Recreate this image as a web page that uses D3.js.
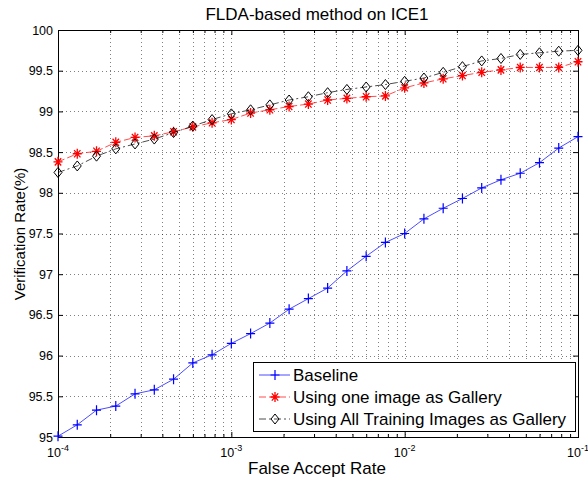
<!DOCTYPE html>
<html>
<head>
<meta charset="utf-8">
<script src="https://cdn.jsdelivr.net/npm/d3@7"></script>
<style>
  body { margin: 0; background: #fff; }
  svg text { font-family: "Liberation Sans", Arial, Helvetica, sans-serif; fill: #000; }
</style>
</head>
<body>
<svg id="chart" width="588" height="482"></svg>
<script>
// FAR sample points: 9 per decade from 1e-4 to 1e-1
const farExp = d3.range(0, 28).map(k => -4 + k / 9);

const baseline = [95.01, 95.15, 95.33, 95.38, 95.53, 95.58, 95.71, 95.91, 96.01, 96.15,
  96.27, 96.40, 96.57, 96.70, 96.83, 97.04, 97.22, 97.39, 97.50, 97.68,
  97.81, 97.93, 98.06, 98.16, 98.24, 98.37, 98.55, 98.69];

const oneImage = [98.38, 98.48, 98.51, 98.62, 98.68, 98.70, 98.75, 98.81, 98.86, 98.90,
  98.98, 99.02, 99.06, 99.09, 99.14, 99.16, 99.18, 99.19, 99.29, 99.35,
  99.40, 99.44, 99.48, 99.51, 99.54, 99.54, 99.54, 99.61];

const allImages = [98.25, 98.33, 98.45, 98.54, 98.60, 98.66, 98.74, 98.82, 98.90, 98.97,
  99.02, 99.08, 99.14, 99.18, 99.23, 99.27, 99.30, 99.33, 99.37, 99.41,
  99.48, 99.55, 99.62, 99.65, 99.70, 99.72, 99.74, 99.75];

const yTicks = [95, 95.5, 96, 96.5, 97, 97.5, 98, 98.5, 99, 99.5, 100];
const xMajor = [-4, -3, -2, -1];
const seriesNames = ['Baseline', 'Using one image as Gallery', 'Using All Training Images as Gallery'];

const svg = d3.select('#chart');
const pLeft = 58, pRight = 578, pTop = 30, pBottom = 437;

const x = d3.scaleLog().domain([1e-4, 1e-1]).range([pLeft, pRight]);
const y = d3.scaleLinear().domain([95, 100]).range([pBottom, pTop]);

// minor log positions 2..9 in each decade
const xMinor = [];
[-4, -3, -2].forEach(e => { for (let m = 2; m <= 9; m++) xMinor.push(m * Math.pow(10, e)); });
const xAll = xMajor.map(e => Math.pow(10, e)).concat(xMinor);

// ── Grid ──────────────────────────────────────────────────────────────────────

const grid = svg.append('g').attr('stroke', '#000').attr('stroke-width', 1)
  .attr('stroke-dasharray', '1,3').attr('stroke-opacity', 0.5);

grid.selectAll('line.v').data(xAll).join('line')
  .attr('x1', d => Math.round(x(d)) + 0.5).attr('x2', d => Math.round(x(d)) + 0.5)
  .attr('y1', pTop).attr('y2', pBottom);

grid.selectAll('line.h').data(yTicks).join('line')
  .attr('x1', pLeft).attr('x2', pRight)
  .attr('y1', d => Math.round(y(d)) + 0.5).attr('y2', d => Math.round(y(d)) + 0.5);

// ── Axes (matlab-style box with inward ticks) ────────────────────────────────

const fmtY = d => d3.format('')(d);

svg.append('g').attr('transform', `translate(${pLeft},0)`)
  .call(d3.axisLeft(y).tickValues(yTicks).tickSize(-5).tickPadding(5).tickFormat(fmtY))
  .call(g => g.select('.domain').remove())
  .call(g => g.selectAll('text').attr('font-size', 12.5));

svg.append('g').attr('transform', `translate(${pRight},0)`)
  .call(d3.axisRight(y).tickValues(yTicks).tickSize(-5).tickFormat(''))
  .call(g => g.select('.domain').remove());

svg.append('g').attr('transform', `translate(0,${pBottom})`)
  .call(d3.axisBottom(x).tickValues(xAll).tickSizeInner(0).tickFormat(''))
  .call(g => g.select('.domain').remove())
  .call(g => g.selectAll('.tick line').attr('y2', d => xMinor.includes(d) ? -3 : -5));

svg.append('g').attr('transform', `translate(0,${pTop})`)
  .call(d3.axisTop(x).tickValues(xAll).tickSizeInner(0).tickFormat(''))
  .call(g => g.select('.domain').remove())
  .call(g => g.selectAll('.tick line').attr('y2', d => xMinor.includes(d) ? 3 : 5));

svg.append('rect')
  .attr('x', pLeft + 0.5).attr('y', pTop + 0.5)
  .attr('width', pRight - pLeft).attr('height', pBottom - pTop)
  .attr('fill', 'none').attr('stroke', '#000').attr('stroke-width', 1);

// x tick labels with superscript exponents
const xl = svg.append('g').selectAll('text').data(xMajor).join('text')
  .attr('x', d => x(Math.pow(10, d)))
  .attr('y', pBottom + 20)
  .attr('font-size', 12.5)
  .attr('text-anchor', 'middle');
xl.append('tspan').text('10');
xl.append('tspan').attr('dy', -6).attr('font-size', 9).text(d => d);

// ── Series ────────────────────────────────────────────────────────────────────

const series = [
  { name: seriesNames[0], values: baseline, color: '#0000ff', dash: null, marker: 'plus' },
  { name: seriesNames[1], values: oneImage, color: '#ff0000', dash: '7,3', marker: 'star' },
  { name: seriesNames[2], values: allImages, color: '#000000', dash: '7,3,2,3', marker: 'diamond' },
];

function drawMarker(g, kind, color) {
  if (kind === 'plus') {
    g.append('path').attr('d', 'M-4.5,0H4.5M0,-5V5').attr('stroke', color).attr('stroke-width', 1.2).attr('fill', 'none');
  } else if (kind === 'star') {
    g.append('path').attr('d', 'M-4.5,0H4.5M0,-5V5M-3.2,-3.6L3.2,3.6M-3.2,3.6L3.2,-3.6')
      .attr('stroke', color).attr('stroke-width', 1.3).attr('fill', 'none');
  } else {
    g.append('path').attr('d', 'M0,-5L4,0L0,5L-4,0Z').attr('stroke', color).attr('stroke-width', 1).attr('fill', 'none');
  }
}

const line = d3.line().x((d, i) => x(Math.pow(10, farExp[i]))).y(d => y(d));

const plot = svg.append('g');
series.forEach(s => {
  plot.append('path').datum(s.values)
    .attr('d', line)
    .attr('fill', 'none')
    .attr('stroke', s.color)
    .attr('stroke-opacity', 0.7)
    .attr('stroke-width', 1)
    .attr('stroke-dasharray', s.dash);
  plot.append('g').selectAll('g').data(s.values).join('g')
    .attr('transform', (d, i) => `translate(${x(Math.pow(10, farExp[i]))},${y(d)})`)
    .each(function () { drawMarker(d3.select(this), s.marker, s.color); });
});

// ── Legend ────────────────────────────────────────────────────────────────────

const lg = svg.append('g');
lg.append('rect').attr('x', 253.5).attr('y', 362.5).attr('width', 322).attr('height', 69)
  .attr('fill', '#fff').attr('stroke', '#000').attr('stroke-width', 1);
series.forEach((s, i) => {
  const ly = 375 + i * 22;
  lg.append('line').attr('x1', 259).attr('x2', 290).attr('y1', ly).attr('y2', ly)
    .attr('stroke', s.color).attr('stroke-opacity', 0.7).attr('stroke-dasharray', s.dash);
  drawMarker(lg.append('g').attr('transform', `translate(275,${ly})`), s.marker, s.color);
  lg.append('text').attr('x', 293).attr('y', ly + 6).attr('font-size', 17).text(s.name);
});

// ── Titles ────────────────────────────────────────────────────────────────────

svg.append('text').attr('x', 317).attr('y', 20).attr('text-anchor', 'middle')
  .attr('font-size', 17).text('FLDA-based method on ICE1');

svg.append('text').attr('x', 317).attr('y', 474).attr('text-anchor', 'middle')
  .attr('font-size', 17).text('False Accept Rate');

svg.append('text').attr('transform', 'translate(25,234) rotate(-90)')
  .attr('text-anchor', 'middle').attr('font-size', 15).text('Verification Rate(%)');
</script>
</body>
</html>
